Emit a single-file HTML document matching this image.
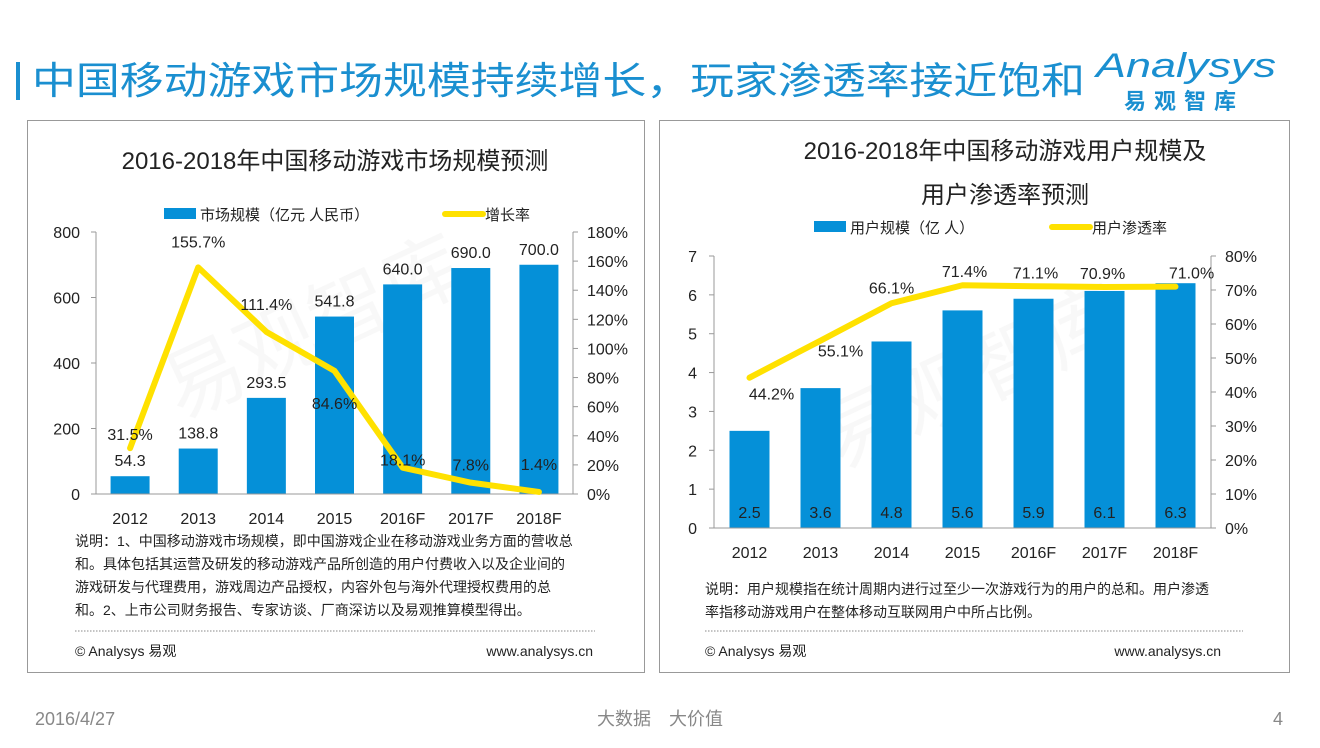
<!DOCTYPE html>
<html><head><meta charset="utf-8">
<style>
body{margin:0;background:#fff;}
svg text{font-family:"Liberation Sans","Noto Sans CJK SC",sans-serif;}
</style></head>
<body>
<svg id="s" width="1320" height="743" viewBox="0 0 1320 743" xmlns="http://www.w3.org/2000/svg">
<rect x="0" y="0" width="1320" height="743" fill="#fff"/>
<rect x="16" y="62" width="4" height="38" fill="#1a8fd0"/>
<text x="32" y="94" font-size="38" fill="#1a8fd0" textLength="1053" lengthAdjust="spacingAndGlyphs">中国移动游戏市场规模持续增长，玩家渗透率接近饱和</text>
<g>
<text x="1096" y="77" font-size="34" fill="#1a8fd0" font-style="italic" textLength="180" lengthAdjust="spacingAndGlyphs">Analysys</text>
<text x="1124" y="109" font-size="22" font-weight="bold" fill="#1a8fd0" letter-spacing="8">易观智库</text>
</g>
<rect x="27.5" y="120.5" width="617" height="552" fill="none" stroke="#999"/>
<rect x="659.5" y="120.5" width="630" height="552" fill="none" stroke="#999"/>
<text x="335" y="169" font-size="24" text-anchor="middle" fill="#222">2016-2018年中国移动游戏市场规模预测</text>
<text x="1005" y="159" font-size="24" text-anchor="middle" fill="#222">2016-2018年中国移动游戏用户规模及</text>
<text x="1005" y="203" font-size="24" text-anchor="middle" fill="#222">用户渗透率预测</text>
<g opacity="0.03">
<text x="180" y="420" font-size="80" fill="#000" transform="rotate(-25 180 420)">易观智库</text>
<text x="840" y="470" font-size="80" fill="#000" transform="rotate(-25 840 470)">易观智库</text>
</g>
<g id="left"></g>
<g id="right"></g>
<g font-size="14" fill="#222">
<text x="75" y="546">说明：1、中国移动游戏市场规模，即中国游戏企业在移动游戏业务方面的营收总</text>
<text x="75" y="569">和。具体包括其运营及研发的移动游戏产品所创造的用户付费收入以及企业间的</text>
<text x="75" y="592">游戏研发与代理费用，游戏周边产品授权，内容外包与海外代理授权费用的总</text>
<text x="75" y="615">和。2、上市公司财务报告、专家访谈、厂商深访以及易观推算模型得出。</text>
</g>
<line x1="75" y1="631" x2="595" y2="631" stroke="#888" stroke-dasharray="1.5 1.5"/>
<text x="75" y="656" font-size="14" fill="#222">© Analysys 易观</text>
<text x="593" y="656" font-size="14" fill="#222" text-anchor="end">www.analysys.cn</text>
<g font-size="14" fill="#222">
<text x="705" y="594">说明：用户规模指在统计周期内进行过至少一次游戏行为的用户的总和。用户渗透</text>
<text x="705" y="617">率指移动游戏用户在整体移动互联网用户中所占比例。</text>
</g>
<line x1="705" y1="631" x2="1243" y2="631" stroke="#888" stroke-dasharray="1.5 1.5"/>
<text x="705" y="656" font-size="14" fill="#222">© Analysys 易观</text>
<text x="1221" y="656" font-size="14" fill="#222" text-anchor="end">www.analysys.cn</text>
<text x="35" y="725" font-size="18" fill="#888">2016/4/27</text>
<text x="660" y="725" font-size="18" fill="#888" text-anchor="middle">大数据　大价值</text>
<text x="1283" y="725" font-size="18" fill="#888" text-anchor="end">4</text>
</svg>
<script>
const years = ["2012","2013","2014","2015","2016F","2017F","2018F"];
const marketSize = [54.3,138.8,293.5,541.8,640.0,690.0,700.0];
const marketGrowth = [31.5,155.7,111.4,84.6,18.1,7.8,1.4];
const marketLeftTicks = [0,200,400,600,800];
const marketRightTicks = [0,20,40,60,80,100,120,140,160,180];
const userScale = [2.5,3.6,4.8,5.6,5.9,6.1,6.3];
const userPenetration = [44.2,55.1,66.1,71.4,71.1,70.9,71.0];
const userLeftTicks = [0,1,2,3,4,5,6,7];
const userRightTicks = [0,10,20,30,40,50,60,70,80];

const NS="http://www.w3.org/2000/svg";
function mk(parent,tag,attrs,txt){const e=document.createElementNS(NS,tag);for(const k in attrs)e.setAttribute(k,attrs[k]);if(txt!==undefined)e.textContent=txt;parent.appendChild(e);return e;}

function drawChart(g,cfg){
  const {x0,x1,y0,y1,lmax,rmax,bars,line,lt,rt,barW}=cfg;
  const n=years.length, step=(x1-x0)/n;
  const xc=i=>x0+step*(i+0.5);
  const yl=v=>y0-(v/lmax)*(y0-y1);
  const yr=v=>y0-(v/rmax)*(y0-y1);
  mk(g,"line",{x1:x0,y1:y1,x2:x0,y2:y0,stroke:"#999"});
  mk(g,"line",{x1:x1,y1:y1,x2:x1,y2:y0,stroke:"#999"});
  lt.forEach(v=>{mk(g,"line",{x1:x0-5,x2:x0,y1:yl(v),y2:yl(v),stroke:"#999"});
    const t=mk(g,"text",{x:cfg.lx,y:yl(v)+6,"font-size":16,"text-anchor":"end",fill:"#222"},String(v));
    
    });
  rt.forEach(v=>{mk(g,"line",{x1:x1,x2:x1+5,y1:yr(v),y2:yr(v),stroke:"#999"});
    const t=mk(g,"text",{x:x1+14,y:yr(v)+6,"font-size":16,fill:"#222"},v+"%");
    
    });
  bars.forEach((v,i)=>{
    const r=mk(g,"rect",{x:xc(i)-barW/2,y:yl(v),width:barW,height:y0-yl(v),fill:"#0590d8"});
    
    
    const ty=cfg.barLabelInside?y0-10:yl(v)-10;
    const t=mk(g,"text",{x:xc(i),y:ty,"font-size":16,"text-anchor":"middle",fill:"#222"},cfg.fmtBar(v));
    
    
    const xt=mk(g,"text",{x:xc(i),y:y0+30,"font-size":16,"text-anchor":"middle",fill:"#222"},years[i]);
    
    
  });
  mk(g,"line",{x1:x0,y1:y0,x2:x1,y2:y0,stroke:"#999"});
  const pts=line.map((v,i)=>xc(i)+","+yr(v)).join(" ");
  const pl=mk(g,"polyline",{points:pts,fill:"none",stroke:"#ffe100","stroke-width":6,"stroke-linejoin":"round","stroke-linecap":"round"});
  
  
  line.forEach((v,i)=>{
    const o=cfg.lineLabelOffset(i);
    const t=mk(g,"text",{x:xc(i)+o[0],y:yr(v)+o[1],"font-size":16,"text-anchor":"middle",fill:"#222"},v.toFixed(1)+"%");
    
    
  });
  const L=cfg.legend;
  const lb=mk(g,"rect",{x:L.x,y:L.y-6,width:32,height:11,fill:"#0590d8"});
  
  
  const lt1=mk(g,"text",{x:L.x+36,y:L.y+6,"font-size":15,fill:"#222"},L.t1);
  
  
  const ll=mk(g,"line",{x1:L.x2,x2:L.x2+38,y1:L.y,y2:L.y,stroke:"#ffe100","stroke-width":6,"stroke-linecap":"round"});
  
  
  const lt2=mk(g,"text",{x:L.x2+40,y:L.y+6,"font-size":15,fill:"#222"},L.t2);
  
  
}

drawChart(document.getElementById("left"),{
  x0:96,x1:573,y0:494,y1:232,lmax:800,rmax:180,bars:marketSize,line:marketGrowth,
  lt:marketLeftTicks,rt:marketRightTicks,barW:39,lx:80,barLabelInside:false,
  fmtBar:v=>v.toFixed(1),
  lineLabelOffset:i=>[[0,-8],[0,-20],[0,-22],[0,38],[0,-2],[0,-12],[0,-22]][i],
  legend:{x:164,y:214,t1:"市场规模（亿元 人民币）",x2:445,t2:"增长率"}
});
drawChart(document.getElementById("right"),{
  x0:714,x1:1211,y0:528,y1:256,lmax:7,rmax:80,bars:userScale,line:userPenetration,
  lt:userLeftTicks,rt:userRightTicks,barW:40,lx:697,barLabelInside:true,
  fmtBar:v=>v.toFixed(1),
  lineLabelOffset:i=>[[22,22],[20,16],[0,-10],[2,-8],[2,-8],[-2,-8],[16,-8]][i],
  legend:{x:814,y:227,t1:"用户规模（亿 人）",x2:1052,t2:"用户渗透率"}
});
</script>
</body></html>
